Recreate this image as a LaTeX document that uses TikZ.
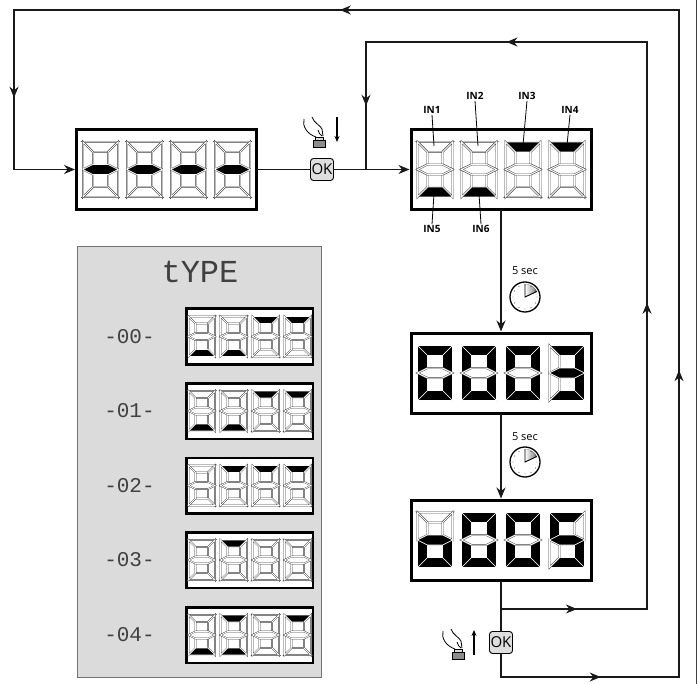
\documentclass[tikz,border=0pt]{standalone}
\usepackage{fontspec}
\setmainfont{Open Sans}
\newfontfamily\monof{Liberation Mono}
\usetikzlibrary{arrows.meta,decorations.markings}

\newcommand\sdig[3]{%
 \begin{scope}[shift={({#1},{#2})}, sa/.style={segoff}, sb/.style={segoff}, sc/.style={segoff}, sd/.style={segoff}, se/.style={segoff}, sf/.style={segoff}, sg/.style={segoff}, #3]
 \path[sa] (0,0) -- (\dW,0) -- (\dW-\dt,\dt) -- (\dt,\dt) -- cycle;
 \path[sb] (\dW,0) -- (\dW,\dH/2) -- (\dW-\dt,\dH/2-\dt/2) -- (\dW-\dt,\dt) -- cycle;
 \path[sc] (\dW,\dH/2) -- (\dW,\dH) -- (\dW-\dt,\dH-\dt) -- (\dW-\dt,\dH/2+\dt/2) -- cycle;
 \path[sd] (0,\dH) -- (\dW,\dH) -- (\dW-\dt,\dH-\dt) -- (\dt,\dH-\dt) -- cycle;
 \path[se] (0,\dH/2) -- (\dt,\dH/2+\dt/2) -- (\dt,\dH-\dt) -- (0,\dH) -- cycle;
 \path[sf] (0,0) -- (\dt,\dt) -- (\dt,\dH/2-\dt/2) -- (0,\dH/2) -- cycle;
 \path[sg] (0,\dH/2) -- (\dt,\dH/2-\dt/2) -- (\dW-\dt,\dH/2-\dt/2) -- (\dW,\dH/2) -- (\dW-\dt,\dH/2+\dt/2) -- (\dt,\dH/2+\dt/2) -- cycle;
 \end{scope}}

\newcommand\bigdisp[7]{%
 \node[bigbox] (#1) at (#2,#3) {};
 \begin{scope}[segoff/.style={draw=black!75, line width=0.45pt, double=white, double distance=1pt, fill=white}]
 \def\dW{35}\def\dH{55}\def\dt{10}
 \sdig{#2-83.5}{#3-27.5}{#4}
 \sdig{#2-39.5}{#3-27.5}{#5}
 \sdig{#2+4.5}{#3-27.5}{#6}
 \sdig{#2+48.5}{#3-27.5}{#7}
 \end{scope}}

\newcommand\smalldisp[7]{%
 \node[smallbox] (#1) at (#2,#3) {};
 \begin{scope}[segoff/.style={draw=black!75, line width=0.4pt, double=white, double distance=0.75pt, fill=white}]
 \def\dW{26.5}\def\dH{40}\def\dt{7}
 \sdig{#2-61}{#3-20}{#4}
 \sdig{#2-29}{#3-20}{#5}
 \sdig{#2+3}{#3-20}{#6}
 \sdig{#2+35}{#3-20}{#7}
 \end{scope}}

\newcommand\clockicon[2]{%
 \begin{scope}[shift={(#1,#2)}]
 \fill[left color=white, right color=black!55] (0,0) -- (90:13pt) arc[start angle=90, end angle=25, radius=13pt] -- cycle;
 \draw[line width=0.9pt] (90:13pt) -- (0,0) -- (25:13pt);
 \foreach \a in {0,30,...,330} \fill (\a:12pt) circle (0.45pt);
 \draw[line width=1.3pt] (0,0) circle (15pt);
 \end{scope}}

\newcommand\handicon[2]{%
 \begin{scope}[shift={(#1,#2)}, line width=0.8pt]
 \draw (1,2) .. controls (-1,9) and (4,17) .. (13,20);
 \draw (9,0) .. controls (11,6) and (17,8) .. (19,12) -- (20,19);
 \draw (15,13) .. controls (16,16) and (17,18) .. (19,19);
 \draw[fill=black!15] (12,20) rectangle (20,23.5);
 \draw[fill=black!45] (10,23.5) rectangle (22,30);
 \end{scope}}

\begin{document}
\begin{tikzpicture}[x=1pt,y=-1pt,
  conn/.style={line width=1.1pt, draw=black!90, line cap=rect},
  arrowat/.style={postaction={decorate, decoration={markings, mark=at position #1 with {\arrow{Stealth[length=11pt,width=9pt]}}}}},
  tip/.style={-{Stealth[length=11pt,width=9pt]}},
  bigbox/.style={draw, line width=3pt, minimum width=180pt, minimum height=80pt, inner sep=0pt, fill=white},
  smallbox/.style={draw, line width=2.5pt, minimum width=126.5pt, minimum height=55.5pt, inner sep=0pt, fill=white},
  okbtn/.style={draw, line width=0.9pt, rounded corners=3pt, fill=black!13, minimum width=23pt, minimum height=22pt, inner sep=0pt, font=\fontsize{15}{15}\selectfont},
  inlab/.style={font=\bfseries\fontsize{10}{10}\selectfont, inner sep=1pt},
  seclab/.style={font=\fontsize{11}{11}\selectfont, inner sep=0pt},
  typelbl/.style={font=\monof\fontsize{21}{21}\selectfont, text=black!75, inner sep=0pt},
  segon/.style={fill=black, draw=white, line width=0.6pt},
  la/.style={sa/.style={segon}}, lb/.style={sb/.style={segon}}, lc/.style={sc/.style={segon}},
  ld/.style={sd/.style={segon}}, le/.style={se/.style={segon}}, lf/.style={sf/.style={segon}},
  lg/.style={sg/.style={segon}},
  zero/.style={la,lb,lc,ld,le,lf},
  pinline/.style={line width=0.8pt},
  smallarrow/.style={line width=1.2pt, -{Stealth[length=6pt,width=5pt]}}
]
\useasboundingbox (0,0) rectangle (698,684);
\draw[line width=1pt, black!75] (696,0) -- (696,684);

% grey panel
\node[draw=black!55, fill=black!14, line width=0.8pt, minimum width=244pt, minimum height=431pt, inner sep=0pt] (panel) at (199,461.5) {};
\node[font=\monof\fontsize{32}{32}\selectfont, text=black!75, inner sep=0pt] (typelab) at (200,272) {tYPE};
\node[typelbl] (l0) at (129.5,336.5) {-00-};
\node[typelbl] (l1) at (129.5,411) {-01-};
\node[typelbl] (l2) at (129.5,485.5) {-02-};
\node[typelbl] (l3) at (129.5,560) {-03-};
\node[typelbl] (l4) at (129.5,635) {-04-};
\smalldisp{t0}{249.5}{336.5}{ld}{ld}{la}{la}
\smalldisp{t1}{249.5}{411}{ld}{ld}{la}{la}
\smalldisp{t2}{249.5}{485.5}{}{la}{la}{la}
\smalldisp{t3}{249.5}{560}{}{la}{}{}
\smalldisp{t4}{249.5}{635}{ld}{la,ld}{}{la}

% coordinates
\coordinate (j1) at (366,169.5);
\coordinate (i1) at (366,42);
\coordinate (i2) at (647,42);
\coordinate (i3) at (647,609);
\coordinate (j2) at (501,609);
\coordinate (o1) at (501,677);
\coordinate (o2) at (679,677);
\coordinate (o3) at (679,10);
\coordinate (o4) at (14,10);
\coordinate (o5) at (14,169.5);

% connectors (behind boxes)
\draw[conn, arrowat=0.56] (o1) -- (o2);
\draw[conn, arrowat=0.46] (o2) -- (o3);
\draw[conn, arrowat=0.51] (o3) -- (o4);
\draw[conn, arrowat=0.55] (o4) -- (o5);
\draw[conn, arrowat=0.52] (j2) -- (i3);
\draw[conn, arrowat=0.54] (i3) -- (i2);
\draw[conn, arrowat=0.5] (i2) -- (i1);
\draw[conn, arrowat=0.5] (i1) -- (j1);

% displays
\bigdisp{d1}{166.5}{169.5}{lg}{lg}{lg}{lg}
\bigdisp{d2}{501}{169.5}{ld}{ld}{la}{la}
\bigdisp{d3}{501}{373}{zero}{zero}{zero}{la,lb,lg,lc,ld}
\bigdisp{d4}{501}{540}{lc,ld,le,lg}{zero}{zero}{la,lf,lg,lc,ld}

% OK buttons
\node[okbtn] (ok1) at (322,169.5) {OK};
\node[okbtn] (ok2) at (501,642.5) {OK};

\draw[conn, tip] (o5) -- (d1.west);
\draw[conn] (d1.east) -- (ok1.west);
\draw[conn, tip] (ok1.east) -- (d2.west);
\draw[conn, tip] (d2.south) -- (d3.north);
\draw[conn, tip] (d3.south) -- (d4.north);
\draw[conn] (d4.south) -- (ok2.north);
\draw[conn] (ok2.south) -- (o1);

% IN labels
\node[inlab] (in1) at (432,110) {IN1};
\node[inlab] (in2) at (475,96) {IN2};
\node[inlab] (in3) at (527,96) {IN3};
\node[inlab] (in4) at (570,110) {IN4};
\node[inlab] (in5) at (432,229) {IN5};
\node[inlab] (in6) at (481,229) {IN6};
\draw[pinline] (in1.south) -- (434,146);
\draw[pinline] (in2.south) -- (478,146);
\draw[pinline] (in3.south) -- (523,145);
\draw[pinline] (in4.south) -- (567,145);
\draw[pinline] (in5.north) -- (434,194);
\draw[pinline] (in6.north) -- (479,194);

% timers
\node[seclab] (sec1) at (525,271) {5 sec};
\clockicon{525}{297}
\node[seclab] (sec2) at (525,437) {5 sec};
\clockicon{525}{462}

% hands
\handicon{303}{117}
\draw[smallarrow] (337,117) -- (337,142);
\handicon{442}{629}
\draw[smallarrow] (474,655) -- (474,630);
\end{tikzpicture}
\end{document}
